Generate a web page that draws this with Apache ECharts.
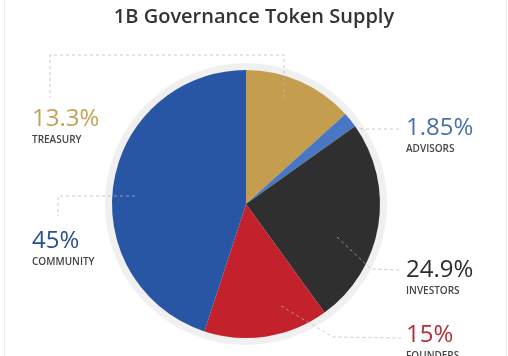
<!DOCTYPE html>
<html>
<head>
<meta charset="utf-8">
<script src="https://cdn.jsdelivr.net/npm/echarts@6/dist/echarts.min.js"></script>
<style>
html,body{margin:0;padding:0;background:#fff;}
#chart{width:508px;height:356px;}
</style>
</head>
<body>
<div id="chart"></div>
<script>
var title = '1B Governance Token Supply';
var categories = ['TREASURY', 'ADVISORS', 'INVESTORS', 'FOUNDERS', 'COMMUNITY'];
var values = [13.3, 1.85, 24.9, 15, 45];
var sliceColors = ['#c49d4e', '#4a77c4', '#2f2f2f', '#c3212b', '#2955a5'];
var textColors = ['#c3a158', '#4a70aa', '#2c2c2c', '#b0303a', '#2b4f90'];
var labelPos = [[32, 106], [406, 115], [406, 257], [406, 322], [32, 228]];

var chart = echarts.init(document.getElementById('chart'));
var data = categories.map(function (c, i) {
  return {
    name: c, value: values[i],
    itemStyle: { color: sliceColors[i] },
    label: { rich: { p: { color: textColors[i] } } }
  };
});
var dash = { stroke: '#b8b8b8', lineWidth: 1, lineDash: [3, 3], fill: null, opacity: 0.75 };
function line(pts) {
  return { type: 'polyline', z: 100, silent: true, shape: { points: pts }, style: dash };
}
chart.setOption({
  animation: false,
  title: {
    text: title, left: 'center', top: 2,
    textStyle: { fontFamily: 'Open Sans', fontSize: 20, fontWeight: 600, color: '#333' }
  },
  graphic: [
    { type: 'rect', z: -10, silent: true, shape: { x: 4.5, y: -2, width: 502, height: 370 }, style: { fill: null, stroke: '#ececec', lineWidth: 1 } },
    { type: 'circle', z: -5, silent: true, shape: { cx: 246, cy: 204, r: 141 }, style: { fill: '#f0f0f0' } },
    line([[284, 98], [284, 55], [50, 55], [50, 98]]),
    line([[135, 196], [58, 196], [58, 216]]),
    line([[360, 129], [400, 129]]),
    line([[337, 237], [371, 269], [401, 270]]),
    line([[281, 306], [333, 337], [401, 338]])
  ],
  series: [{
    type: 'pie',
    center: [246, 204],
    radius: 134,
    startAngle: 90,
    clockwise: true,
    data: data,
    labelLine: { show: false },
    label: {
      show: true,
      position: 'outside',
      overflow: 'none',
      formatter: '{p|{c}%}\n{n|{b}}',
      rich: {
        p: { fontFamily: 'Open Sans', fontSize: 24, lineHeight: 27 },
        n: { fontFamily: 'Open Sans', fontSize: 10, fontWeight: 600, color: '#444', lineHeight: 14 }
      }
    },
    labelLayout: function (p) {
      var pos = labelPos[p.dataIndex];
      return { x: pos[0], y: pos[1], align: 'left', verticalAlign: 'top', hideOverlap: false };
    },
    emphasis: { disabled: true }
  }]
});
</script>
</body>
</html>
